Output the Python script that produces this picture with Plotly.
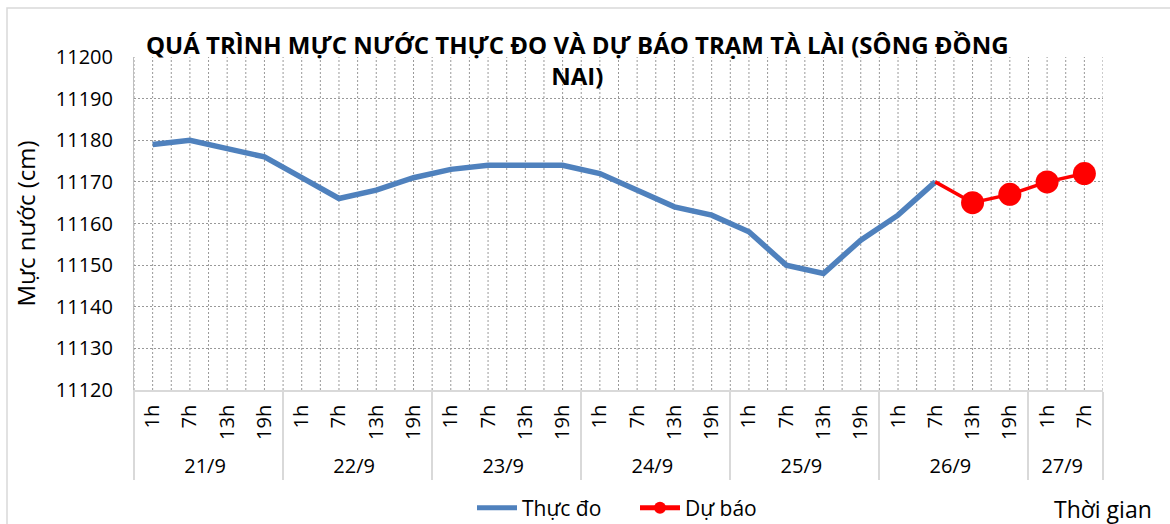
import plotly.graph_objects as go

dates = ["21/9"] * 4 + ["22/9"] * 4 + ["23/9"] * 4 + ["24/9"] * 4 + ["25/9"] * 4 + ["26/9"] * 4 + ["27/9"] * 2
hours = ["1h", "7h", "13h", "19h"] * 6 + ["1h", "7h"]

thuc_do = [11179, 11180, 11178, 11176,
           11171, 11166, 11168, 11171,
           11173, 11174, 11174, 11174,
           11172, 11168, 11164, 11162,
           11158, 11150, 11148, 11156,
           11162, 11170, None, None,
           None, None]
du_bao = [None] * 21 + [11170, 11165, 11167, 11170, 11172]
du_bao_marker = [0] * 21 + [0, 23, 23, 23, 23]

y_ticks = [11120, 11130, 11140, 11150, 11160, 11170, 11180, 11190, 11200]

FONT = "Open Sans"
GRID = "#999999"
DOT = "2px,2px"
fig = go.Figure()
fig.add_trace(go.Scatter(
    x=[dates, hours], y=thuc_do, name="Thực đo", mode="lines",
    line=dict(color="#4F81BD", width=5.5), connectgaps=False))
fig.add_trace(go.Scatter(
    x=[dates, hours], y=du_bao, name="Dự báo", mode="lines+markers",
    line=dict(color="#FF0000", width=3.5),
    marker=dict(color="#FF0000", size=du_bao_marker, opacity=1, line=dict(width=0)),
    connectgaps=False))

# vertical grid lines at category centres and boundaries
n = len(hours)
for i in range(2 * n + 1):
    xv = i / 2 - 0.5
    fig.add_shape(type="line", xref="x", yref="paper", x0=xv, x1=xv, y0=0, y1=1,
                  line=dict(color=GRID, width=1, dash=DOT), layer="below")

fig.add_shape(type="rect", xref="paper", yref="paper",
              x0=(7 - 134) / 969, x1=(1200 - 134) / 969, y0=(390 - 560) / 333, y1=(390 - 8) / 333,
              line=dict(color="#D9D9D9", width=1.5), layer="below")

fig.update_layout(
    width=1170, height=524,
    margin=dict(l=134, r=67, t=57, b=134, autoexpand=False),
    paper_bgcolor="white", plot_bgcolor="white",
    font=dict(family=FONT, size=20, color="#000000"),
    showlegend=True,
    legend=dict(orientation="h", x=(472 - 134) / 969, xanchor="left", y=(390 - 508) / 333,
                yanchor="middle", font=dict(size=21, family=FONT), itemsizing="constant",
                itemwidth=40, tracegroupgap=0, entrywidth=108),
    annotations=[
        dict(text="<b>QUÁ TRÌNH MỰC NƯỚC THỰC ĐO VÀ DỰ BÁO TRẠM TÀ LÀI (SÔNG ĐỒNG<br>NAI)</b>",
             xref="paper", yref="paper", x=(577 - 134) / 969, y=(390 - 60) / 333, xanchor="center",
             yanchor="middle", showarrow=False, font=dict(size=24, family=FONT), align="center"),
        dict(text="Thời gian", xref="paper", yref="paper", x=(1103 - 134) / 969, y=(390 - 509) / 333,
             xanchor="center", yanchor="middle", showarrow=False, font=dict(size=23, family=FONT)),
    ],
)

fig.update_xaxes(type="multicategory", range=[-0.5, n - 0.5], tickangle=-90, automargin=False,
                 showgrid=False, showline=True, linecolor="#D9D9D9", linewidth=1.5,
                 showdividers=True, dividercolor="#D9D9D9", dividerwidth=1.5,
                 ticklabelstandoff=5,
                 tickfont=dict(size=20, family=FONT), ticks="")
fig.update_yaxes(range=[11120, 11200], tickvals=y_ticks, tickformat="d", showgrid=True,
                 gridcolor=GRID, automargin=False,
                 griddash=DOT, gridwidth=1, showline=True, linecolor="#BFBFBF", linewidth=1,
                 zeroline=False, ticks="", ticklabelstandoff=16,
                 tickfont=dict(size=20, family=FONT),
                 title=dict(text="Mực nước (cm)", font=dict(size=24, family=FONT), standoff=13))

fig.write_html("out.html", config={"displayModeBar": False},
               post_script="document.body.style.margin='0';document.body.style.padding='0';")
